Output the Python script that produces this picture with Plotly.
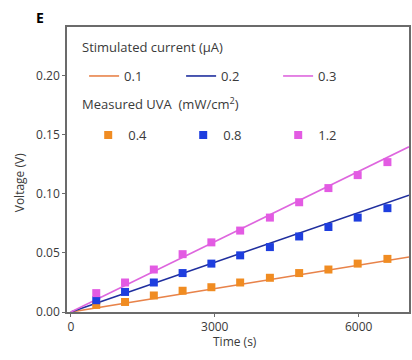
import plotly.graph_objects as go

# Data
time_markers = [530, 1130, 1730, 2330, 2930, 3530, 4150, 4760, 5370, 5980, 6600]
uva_04 = [0.006, 0.0085, 0.014, 0.018, 0.021, 0.025, 0.029, 0.033, 0.036, 0.041, 0.045]
uva_08 = [0.010, 0.017, 0.025, 0.033, 0.041, 0.048, 0.055, 0.064, 0.072, 0.080, 0.088]
uva_12 = [0.016, 0.025, 0.036, 0.049, 0.059, 0.069, 0.080, 0.093, 0.105, 0.116, 0.127]

time_lines = [0, 7050]
cur_01 = [0, 0.0466]
cur_02 = [0, 0.099]
cur_03 = [0, 0.140]

current_labels = ["0.1", "0.2", "0.3"]
uva_labels = ["0.4", "0.8", "1.2"]
x_ticks = [0, 3000, 6000]
y_ticks = [0.00, 0.05, 0.10, 0.15, 0.20]

line_colors = ["#E8834A", "#1F2E9E", "#DE66DE"]
marker_colors = ["#F08C22", "#1E3EDF", "#E35BE3"]

FONT = "Open Sans"
TXT = "#3a3a3a"

fig = go.Figure()

for lbl, ys, c in zip(current_labels, [cur_01, cur_02, cur_03], line_colors):
    fig.add_trace(go.Scatter(x=time_lines, y=ys, mode="lines", name=lbl,
                             line=dict(color=c, width=1.6), legend="legend"))

for lbl, ys, c in zip(uva_labels, [uva_04, uva_08, uva_12], marker_colors):
    fig.add_trace(go.Scatter(x=time_markers, y=ys, mode="markers", name=lbl,
                             marker=dict(symbol="square", size=8, color=c),
                             legend="legend2"))

axis_common = dict(showline=True, linecolor="#6b6b6b", linewidth=1.5, mirror=True,
                   ticks="outside", ticklen=3, tickcolor="#6b6b6b", tickwidth=1,
                   showgrid=False, zeroline=False,
                   tickfont=dict(family=FONT, size=12, color=TXT))

fig.update_layout(
    width=412, height=360,
    margin=dict(l=67, r=1, t=27, b=48),
    paper_bgcolor="white", plot_bgcolor="white",
    font=dict(family=FONT, size=12, color=TXT),
    xaxis=dict(range=[-80, 7050], tickvals=x_ticks, **axis_common),
    yaxis=dict(range=[0, 0.2415], tickvals=y_ticks, tickformat=".2f", **axis_common),
    legend=dict(orientation="h", x=0.05, xanchor="left", y=0.828, yanchor="middle",
                entrywidth=52, entrywidthmode="pixels", bgcolor="rgba(0,0,0,0)",
                font=dict(family=FONT, size=13, color=TXT)),
    legend2=dict(orientation="h", x=0.062, xanchor="left", y=0.621, yanchor="middle",
                 entrywidth=50, entrywidthmode="pixels", bgcolor="rgba(0,0,0,0)",
                 font=dict(family=FONT, size=13, color=TXT)),
    showlegend=True,
)

fig.add_annotation(text="Stimulated current (μA)", xref="paper", yref="paper",
                   x=0.038, y=(312 - 47) / 285, xanchor="left", yanchor="middle",
                   showarrow=False, font=dict(family=FONT, size=13, color=TXT))
fig.add_annotation(text="Measured UVA  (mW/cm<sup>2</sup>)", xref="paper", yref="paper",
                   x=0.038, y=(312 - 103) / 285, xanchor="left", yanchor="middle",
                   showarrow=False, font=dict(family=FONT, size=13, color=TXT))
fig.add_annotation(text="<b>E</b>", xref="paper", yref="paper",
                   x=(40 - 67) / 344, y=(312 - 18) / 285, xanchor="center", yanchor="middle",
                   showarrow=False, font=dict(family=FONT, size=14, color="black"))
fig.add_annotation(text="Voltage (V)", xref="paper", yref="paper", textangle=-90,
                   x=(20 - 67) / 344, y=(312 - 183) / 285, xanchor="center", yanchor="middle",
                   showarrow=False, font=dict(family=FONT, size=12, color=TXT))
fig.add_annotation(text="Time (s)", xref="paper", yref="paper",
                   x=(236 - 67) / 344, y=(312 - 341) / 285, xanchor="center", yanchor="middle",
                   showarrow=False, font=dict(family=FONT, size=12, color=TXT))

fig.write_html("out.html")
